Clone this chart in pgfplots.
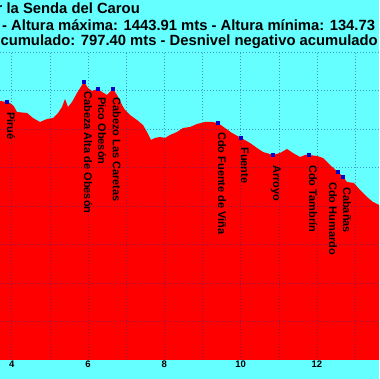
\documentclass[border=0pt]{standalone}
\usepackage{pgfplots}
\pgfplotsset{compat=1.18}
\usepackage{fontspec}
\setmainfont{Liberation Sans}
\definecolor{bg}{RGB}{102,255,255}
\definecolor{gridc}{RGB}{20,50,150}
\definecolor{axc}{RGB}{90,70,170}
\begin{document}
\begin{tikzpicture}[x=1pt,y=1pt]
\useasboundingbox (0,0) rectangle (379,379);
\clip (0,0) rectangle (379,379);
\fill[bg] (0,0) rectangle (379,379);
\node[anchor=east, inner sep=0pt, font=\fontsize{14.8}{16}\selectfont\bfseries] at (140,371) {r la Senda del Carou};
\node[anchor=west, inner sep=0pt, font=\fontsize{14.8}{16}\selectfont\bfseries] at (2,354) {- Altura máxima: 1443.91 mts - Altura mínima: 134.73};
\node[anchor=east, inner sep=0pt, font=\fontsize{14.8}{16}\selectfont\bfseries] at (378,337) {cumulado: 797.40 mts - Desnivel negativo acumulado};
\begin{axis}[at={(0pt,19pt)}, anchor=south west, scale only axis,
  width=379pt, height=308pt,
  xmin=3.693, xmax=13.628, ymin=0, ymax=1600,
  axis on top, axis line style={draw=none},
  xtick={4,6,...,12}, minor xtick={5,7,...,13},
  ytick={200,400,...,1600}, yticklabels={},
  major tick length=0pt, minor tick length=0pt,
  grid=both,
  major grid style={gridc, opacity=0.5, line width=0.5pt, dash pattern=on 1pt off 2pt},
  minor grid style={gridc, opacity=0.5, line width=0.5pt, dash pattern=on 1pt off 2pt},
  xticklabel style={font=\fontsize{9.5}{10}\selectfont\bfseries, inner sep=1pt},
  /pgf/number format/assume math mode=true]
\addplot[draw=none, fill=red] coordinates {
(3.693,1345.5) (3.877,1340.3) (3.955,1335.1) (4.05,1320) (4.139,1288.4) (4.401,1283.2)
(4.558,1257.2) (4.742,1236.4) (4.925,1252.0) (5.083,1257.2) (5.214,1283.2)
(5.318,1314.3) (5.397,1355.9) (5.476,1314.3) (5.581,1340.3) (5.712,1387.1)
(5.843,1428.6) (5.896,1443.91) (6.001,1413.0) (6.106,1397.5) (6.262,1407.8)
(6.367,1392.3) (6.498,1376.7) (6.655,1407.8) (6.760,1376.7) (6.891,1324.7)
(6.970,1298.8) (7.101,1272.8) (7.284,1246.8) (7.441,1220.8) (7.546,1184.5)
(7.651,1142.9) (7.756,1153.3) (7.887,1158.5) (8.018,1153.3) (8.149,1168.9)
(8.333,1184.5) (8.490,1205.2) (8.674,1210.4) (8.857,1226.0) (9.067,1236.4)
(9.250,1236.4) (9.408,1231.2) (9.591,1205.2) (9.775,1179.3) (10.011,1153.3)
(10.247,1127.3) (10.430,1101.3) (10.587,1080.6) (10.850,1065.0) (11.033,1075.4)
(11.217,1096.1) (11.374,1075.4) (11.558,1054.6) (11.689,1065.0) (11.794,1065.0)
(12.003,1059.8) (12.160,1049.4) (12.344,1013.0) (12.553,976.7) (12.684,950.7)
(12.789,924.7) (12.973,919.5) (13.130,883.2) (13.314,846.8) (13.470,820.8) (13.628,805.2)
} \closedcycle;
\addplot[only marks, mark=square*, mark size=1.4pt, color=blue!80!black] coordinates {
(3.877,1340.3) (5.896,1443.91) (6.262,1407.8) (6.655,1407.8) (9.408,1231.2)
(10.011,1153.3) (10.850,1065.0) (11.794,1065.0) (12.553,976.7) (12.684,950.7)
};
\draw[axc, line width=0.8pt] (rel axis cs:0,0) -- (rel axis cs:1,0);
\begin{scope}[every node/.style={anchor=base west, inner sep=0pt, rotate=-90, font=\fontsize{11}{12}\selectfont\bfseries}]
\node at (axis cs:3.877,1288) {Pirué};
\node at (axis cs:5.896,1397) {Cabeza Alta de Obesón};
\node at (axis cs:6.262,1366) {Pico Obesón};
\node at (axis cs:6.655,1366) {Cabezo Las Caretas};
\node at (axis cs:9.408,1184) {Cdo Fuente de Viña};
\node at (axis cs:10.011,1106) {Fuente};
\node at (axis cs:10.850,1013) {Arroyo};
\node at (axis cs:11.794,1013) {Cdo Tambrín};
\node at (axis cs:12.317,925) {Cdo Humardo};
\node at (axis cs:12.684,899) {Cabañas};
\end{scope}
\end{axis}
\end{tikzpicture}
\end{document}
